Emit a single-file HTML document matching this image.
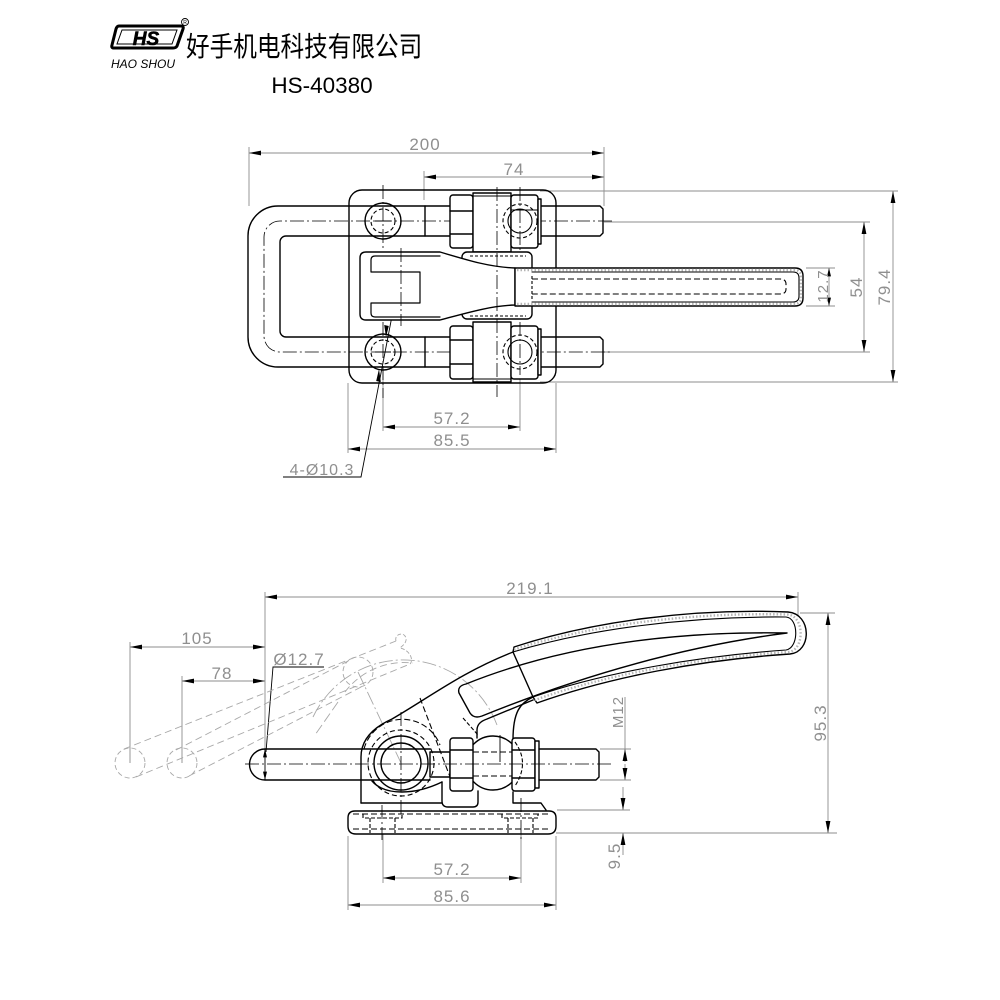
<!DOCTYPE html>
<html><head><meta charset="utf-8"><style>
html,body{margin:0;padding:0;background:#fff;}
svg{display:block}
.o{fill:none;stroke:#000;stroke-width:1.4;stroke-linejoin:round;stroke-linecap:round}
.ow{fill:#fff;stroke:#000;stroke-width:1.4;stroke-linejoin:round}
.h{fill:none;stroke:#000;stroke-width:1.1;stroke-dasharray:6 3}
.c{fill:none;stroke:#000;stroke-width:0.8;stroke-dasharray:14 3 2 3}
.d{fill:none;stroke:#8c8c8c;stroke-width:0.9}
.p{fill:none;stroke:#a8a8a8;stroke-width:0.9;stroke-dasharray:7 4}
.pc{fill:none;stroke:#a8a8a8;stroke-width:0.9;stroke-dasharray:14 3 2 3}
.t{font-family:"Liberation Sans",sans-serif;fill:#8f8f8f;font-size:17px;text-anchor:middle;letter-spacing:1px}
.st{fill:none;stroke:#b5b5b5;stroke-width:2.4;stroke-dasharray:1.5 2}
</style></head><body>
<svg width="1000" height="1000" viewBox="0 0 1000 1000" xmlns="http://www.w3.org/2000/svg">
<defs>
<marker id="a" viewBox="0 0 12 6" refX="12" refY="3" markerWidth="12" markerHeight="6" markerUnits="userSpaceOnUse" orient="auto-start-reverse"><path d="M0,0.6 L12,3 L0,5.4z" fill="#000"/></marker>
<marker id="s" viewBox="0 0 10 6" refX="10" refY="3" markerWidth="9" markerHeight="5" markerUnits="userSpaceOnUse" orient="auto-start-reverse"><path d="M0,0.6 L10,3 L0,5.4z" fill="#000"/></marker>
</defs>

<!-- ===== HEADER ===== -->
<path d="M119,26 L181,26 Q184,26 183,29 L177,46 Q176,48 173,48 L114,48 Q111,48 112,45 L116,29 Q117,26 119,26 Z" fill="#fff" stroke="#000" stroke-width="3"/>
<path d="M122,30 L177,30 L172,44 L117,44 Z" fill="none" stroke="#000" stroke-width="1"/>
<text x="146" y="45" font-family="Liberation Sans,sans-serif" font-weight="bold" font-style="italic" font-size="19" text-anchor="middle" fill="#000" stroke="#000" stroke-width="0.6">HS</text>
<circle cx="185" cy="22" r="3.5" fill="none" stroke="#000" stroke-width="0.9"/>
<text x="185" y="24" font-family="Liberation Sans,sans-serif" font-size="5" text-anchor="middle" fill="#000">R</text>
<text x="143" y="68" font-family="Liberation Sans,sans-serif" font-style="italic" font-size="12" text-anchor="middle" fill="#000">HAO SHOU</text>
<text transform="translate(186,56) scale(0.86,1)" font-family="'Liberation Sans','Noto Sans CJK SC',sans-serif" font-size="27.5" fill="#000">好手机电科技有限公司</text>
<text x="322" y="93" font-family="Liberation Sans,sans-serif" font-size="22.5" text-anchor="middle" fill="#000">HS-40380</text>

<!-- ===== TOP VIEW ===== -->
<line class="d" x1="249" y1="147" x2="249" y2="206"/>
<line class="d" x1="604" y1="147" x2="604" y2="206"/>
<line class="d" x1="424" y1="171" x2="424" y2="200"/>
<line class="d" x1="249" y1="153" x2="604" y2="153" marker-start="url(#a)" marker-end="url(#a)"/>
<text class="t" x="425" y="150">200</text>
<line class="d" x1="424" y1="177" x2="604" y2="177" marker-start="url(#a)" marker-end="url(#a)"/>
<text class="t" x="514" y="175">74</text>

<line class="d" x1="540" y1="191" x2="898" y2="191"/>
<line class="d" x1="540" y1="382" x2="898" y2="382"/>
<line class="d" x1="604" y1="222" x2="870" y2="222"/>
<line class="d" x1="604" y1="352" x2="870" y2="352"/>
<line class="d" x1="806" y1="268" x2="835" y2="268"/>
<line class="d" x1="806" y1="306" x2="835" y2="306"/>
<line class="d" x1="893" y1="191" x2="893" y2="382" marker-start="url(#a)" marker-end="url(#a)"/>
<line class="d" x1="864" y1="222" x2="864" y2="352" marker-start="url(#a)" marker-end="url(#a)"/>
<line class="d" x1="829" y1="268" x2="829" y2="306" marker-start="url(#s)" marker-end="url(#s)"/>
<text class="t" transform="translate(890,287) rotate(-90)">79.4</text>
<text class="t" transform="translate(862,287) rotate(-90)">54</text>
<text class="t" transform="translate(828,286) rotate(-90)" style="font-size:15px">12.7</text>

<line class="d" x1="348" y1="383" x2="348" y2="453"/>
<line class="d" x1="556" y1="383" x2="556" y2="453"/>
<line class="d" x1="383" y1="370" x2="383" y2="431"/>
<line class="d" x1="520" y1="375" x2="520" y2="431"/>
<line class="d" x1="383" y1="427" x2="520" y2="427" marker-start="url(#a)" marker-end="url(#a)"/>
<text class="t" x="452" y="424">57.2</text>
<line class="d" x1="348" y1="449" x2="556" y2="449" marker-start="url(#a)" marker-end="url(#a)"/>
<text class="t" x="452" y="446">85.5</text>
<polyline points="283,477 361,477 392,316" fill="none" stroke="#000" stroke-width="0.9"/>
<path d="M386,337 L384.2,325 L388.8,326 Z" fill="#000"/>
<path d="M379,369 L376.2,381 L380.8,382 Z" fill="#000"/>
<text class="t" x="322" y="475" style="font-size:16px">4-Ø10.3</text>

<rect class="o" x="349" y="190" width="207" height="193" rx="13"/>
<path class="o" d="M425,206 L600,206 L603,209 L603,233 L600,236 L425,236"/>
<path class="o" d="M425,337 L600,337 L603,340 L603,364 L600,367 L425,367"/>
<path class="o" d="M425,206 L278,206 A30,30 0 0 0 248,236 L248,337 A30,30 0 0 0 278,367 L425,367 L425,337 L286,337 A6,6 0 0 1 280,331 L280,242 A6,6 0 0 1 286,236 L425,236 Z"/>
<path class="c" d="M612,221 L280,221 A16,16 0 0 0 264,237 L264,336 A16,16 0 0 0 280,352 L612,352"/>
<g>
<circle class="o" cx="383" cy="221" r="18"/>
<circle class="h" cx="383" cy="221" r="12" style="stroke-dasharray:4 2.5"/>
<circle class="o" cx="383" cy="352" r="18"/>
<circle class="h" cx="383" cy="352" r="12" style="stroke-dasharray:4 2.5"/>
<line class="c" x1="383" y1="185" x2="383" y2="250"/>
<line class="c" x1="383" y1="322" x2="383" y2="398"/>
<line x1="375" y1="221" x2="391" y2="221" stroke="#000" stroke-width="1"/>
<line x1="375" y1="352" x2="391" y2="352" stroke="#000" stroke-width="1"/>
</g>
<rect class="ow" x="450" y="195" width="23" height="53" rx="3"/>
<line class="o" x1="450" y1="211" x2="473" y2="211"/><line class="o" x1="450" y1="234" x2="473" y2="234"/>
<rect class="ow" x="473" y="193" width="38" height="59"/>
<line class="o" x1="473" y1="196" x2="511" y2="196" style="stroke-width:1"/>
<rect class="ow" x="511" y="195" width="27" height="53" rx="3"/>
<rect class="ow" x="538" y="199" width="3" height="45"/>
<circle class="h" cx="520" cy="221" r="17" style="stroke-dasharray:4 2.5"/>
<circle class="o" cx="520" cy="221" r="12" style="stroke-width:1.1"/>
<line class="o" x1="511" y1="210" x2="538" y2="210" style="stroke-width:0.9"/>

<rect class="ow" x="450" y="326" width="23" height="53" rx="3"/>
<line class="o" x1="450" y1="340" x2="473" y2="340"/><line class="o" x1="450" y1="364" x2="473" y2="364"/>
<rect class="ow" x="473" y="322" width="38" height="60"/>
<line class="o" x1="473" y1="379" x2="511" y2="379" style="stroke-width:1"/>
<rect class="ow" x="511" y="326" width="27" height="53" rx="3"/>
<rect class="ow" x="538" y="329" width="3" height="46"/>
<circle class="h" cx="520" cy="352" r="17" style="stroke-dasharray:4 2.5"/>
<circle class="o" cx="520" cy="352" r="12" style="stroke-width:1.1"/>

<rect class="ow" x="462" y="252" width="70" height="67" rx="5"/>
<line class="h" x1="470" y1="256" x2="526" y2="256" style="stroke-dasharray:3 2"/>
<line class="h" x1="470" y1="316" x2="526" y2="316" style="stroke-dasharray:3 2"/>
<path class="ow" d="M440,252 L366,252 Q360,252 360,258 L360,314 Q360,320 366,320 L440,320 C470,312 490,306 515,305 L515,268 C490,267 470,261 440,252 Z"/>
<path class="o" d="M440,256 L375,256 Q371,256 371,260 L371,272 L420,272 L420,303 L371,303 L371,313 Q371,317 375,317 L440,317" style="stroke-width:1.2"/>
<line class="c" x1="401" y1="248" x2="401" y2="326"/>
<line class="c" x1="497" y1="187" x2="497" y2="397"/>
<line class="c" x1="520" y1="187" x2="520" y2="250"/>
<line class="c" x1="520" y1="322" x2="520" y2="375"/>
<path class="ow" d="M515,268 L795,268 Q803,268 803,276 L803,298 Q803,306 795,306 L515,306 Z"/>
<path class="o" d="M532,272 L793,272 Q799,272 799,278 L799,296 Q799,302 793,302 L532,302" style="stroke-width:1.1"/>
<path class="st" d="M517,270 L794,270 Q801,270 801,277 L801,297 Q801,304 794,304 L517,304"/>
<path class="h" d="M532,279 L780,279 Q786,279 786,284 L786,289 Q786,294 780,294 L532,294"/>
<line class="h" x1="532" y1="276" x2="532" y2="300" style="stroke-dasharray:3 2"/>

<!-- ===== SIDE VIEW ===== -->
<line class="d" x1="265" y1="592" x2="265" y2="752"/>
<line class="d" x1="798" y1="592" x2="798" y2="615"/>
<line class="d" x1="265" y1="597" x2="798" y2="597" marker-start="url(#a)" marker-end="url(#a)"/>
<text class="t" x="530" y="594">219.1</text>
<line class="d" x1="130" y1="642" x2="130" y2="763"/>
<line class="d" x1="182" y1="676" x2="182" y2="763"/>
<line class="d" x1="130" y1="647" x2="265" y2="647" marker-start="url(#a)" marker-end="url(#a)"/>
<text class="t" x="197" y="644">105</text>
<line class="d" x1="182" y1="681" x2="265" y2="681" marker-start="url(#a)" marker-end="url(#a)"/>
<text class="t" x="222" y="679">78</text>
<polyline points="324,667 273,667 266,752" fill="none" stroke="#000" stroke-width="0.9"/>
<text class="t" x="299" y="665">Ø12.7</text>
<line class="d" x1="265" y1="749" x2="265" y2="780" marker-start="url(#s)" marker-end="url(#s)" style="stroke:#000"/>

<line class="d" x1="800" y1="613" x2="835" y2="613"/>
<line class="d" x1="556" y1="833" x2="837" y2="833"/>
<line class="d" x1="828" y1="613" x2="828" y2="833" marker-start="url(#a)" marker-end="url(#a)"/>
<text class="t" transform="translate(826,723) rotate(-90)">95.3</text>

<line class="d" x1="600" y1="749" x2="631" y2="749"/>
<line class="d" x1="600" y1="780" x2="631" y2="780"/>
<line class="d" x1="557" y1="810" x2="630" y2="810"/>
<line class="d" x1="625" y1="697" x2="625" y2="749"/>
<line class="d" x1="625" y1="764" x2="625" y2="780" marker-end="url(#a)"/>
<line class="d" x1="625" y1="762" x2="625" y2="749" marker-end="url(#a)"/>
<text class="t" transform="translate(623,712) rotate(-90)" style="font-size:15px">M12</text>
<line class="d" x1="623" y1="787" x2="623" y2="810" marker-end="url(#a)"/>
<line class="d" x1="623" y1="855" x2="623" y2="833" marker-end="url(#a)"/>
<text class="t" transform="translate(620,856) rotate(-90)">9.5</text>

<line class="d" x1="348" y1="836" x2="348" y2="910"/>
<line class="d" x1="556" y1="836" x2="556" y2="910"/>
<line class="d" x1="383" y1="834" x2="383" y2="883"/>
<line class="d" x1="521" y1="834" x2="521" y2="883"/>
<line class="d" x1="383" y1="878" x2="521" y2="878" marker-start="url(#a)" marker-end="url(#a)"/>
<text class="t" x="452" y="875">57.2</text>
<line class="d" x1="348" y1="905" x2="556" y2="905" marker-start="url(#a)" marker-end="url(#a)"/>
<text class="t" x="452" y="902">85.6</text>

<circle class="p" cx="130" cy="763" r="15" style="stroke-dasharray:5 3"/>
<circle class="p" cx="182" cy="763" r="15" style="stroke-dasharray:5 3"/>
<circle class="p" cx="358" cy="672" r="15" style="stroke-dasharray:5 3"/>
<line class="p" x1="124" y1="749" x2="396" y2="641"/>
<line class="p" x1="136" y1="777" x2="410" y2="664"/>
<line class="p" x1="176" y1="750" x2="352" y2="659"/>
<line class="p" x1="189" y1="776" x2="365" y2="685"/>
<path class="p" d="M396,641 C394,634 404,631 406,638 C407,643 402,646 400,648 C410,650 414,660 410,664" style="stroke-dasharray:4 2"/>
<path class="p" d="M345,692 C360,672 385,660 413,663"/>
<path class="pc" d="M313,717 A100,100 0 0 1 497,725"/>
<line class="pc" x1="358" y1="672" x2="401" y2="763"/>
<line class="p" x1="338" y1="702" x2="315" y2="735" style="stroke-dasharray:10 4"/>

<path class="o" d="M355,811 L549,811 Q556,811 556,818 L556,826 Q556,834 548,834 L356,834 Q348,834 348,826 L348,818 Q348,811 355,811 Z"/>
<line class="h" x1="353" y1="814" x2="551" y2="814"/>
<line class="h" x1="353" y1="829" x2="551" y2="829"/>
<path class="h" d="M363,814 L363,818 L402,818 L402,814 M370,818 L370,833 M395,818 L395,833" style="stroke-dasharray:4 2"/>
<path class="h" d="M502,814 L502,818 L538,818 L538,814 M508,818 L508,833 M533,818 L533,833" style="stroke-dasharray:4 2"/>
<line class="c" x1="382" y1="805" x2="382" y2="840"/>
<line class="c" x1="521" y1="798" x2="521" y2="840"/>
<path class="o" d="M361,803 L442,803 M442,782 L442,801 Q442,807 448,807 L473,807 Q478,807 478,802 L478,791 M513,792 L513,803 L541,803 L546,810"/>
<path class="o" d="M372,781 C385,796 415,795 442,782"/>

<path class="o" d="M430,749 L265,749 A15.5,15.5 0 0 0 265,780 L430,780"/>
<rect class="o" x="430" y="752" width="20" height="25"/>
<path class="o" d="M361,803 L361,757 C361,740 372,728 392,719 C430,697 462,672 513,652"/>
<path class="o" d="M513,652 L514,647 C590,622 690,608 788,612 C812,614 812,652 790,654 C700,660 610,677 537,703 L533,697 Z"/>
<path class="o" d="M513,652 C585,630 685,616 786,617 C799,618 799,648 786,650 C700,656 605,672 533,697" style="stroke-width:1.1"/>
<path class="st" d="M514,649.5 C587,626 687,612 787,614.5 C805,615 805,651 788,652 C700,658 607,674 535,700"/>
<path class="o" d="M533,697 C520,703 513,712 513,740"/>
<path class="o" d="M477,738 L477,730 C477,724 481,721 487,719 L533,700"/>
<path class="o" d="M466,684 Q600,630 787,633 Q640,652 482,716 Q474,719 470,713 L459,693 Q457,686 466,684 Z"/>
<line class="h" x1="420" y1="698" x2="455" y2="790"/>
<path class="h" d="M364,749 A40,40 0 0 1 440,745"/>
<line class="h" x1="463" y1="718" x2="478" y2="735" style="stroke-dasharray:4 2"/>
<circle class="h" cx="401" cy="763" r="33" style="stroke-dasharray:5 3"/>
<circle class="o" cx="401" cy="763" r="27"/>
<circle class="o" cx="401" cy="763" r="20"/>
<line class="c" x1="401" y1="712" x2="401" y2="815"/>
<circle class="o" cx="493" cy="763" r="27"/>
<line class="h" x1="473" y1="752" x2="512" y2="752"/>
<line class="h" x1="473" y1="776" x2="512" y2="776"/>
<rect class="ow" x="450" y="738" width="23" height="53" rx="3"/>
<line class="o" x1="450" y1="750" x2="473" y2="750"/><line class="o" x1="450" y1="778" x2="473" y2="778"/>
<rect class="ow" x="512" y="738" width="23" height="53" rx="3"/>
<line class="o" x1="512" y1="750" x2="535" y2="750"/><line class="o" x1="512" y1="778" x2="535" y2="778"/>
<path class="h" d="M515,742 Q530,763 515,786" style="stroke-dasharray:4 2"/>
<rect class="ow" x="535" y="741" width="4" height="47"/>
<path class="o" d="M539,749 L596,749 L599,752 L599,777 L596,780 L539,780"/>
<line class="c" x1="245" y1="764" x2="614" y2="764"/>
<line x1="500" y1="735" x2="500" y2="762" stroke="#000" stroke-width="0.9"/>
</svg>
</body></html>
